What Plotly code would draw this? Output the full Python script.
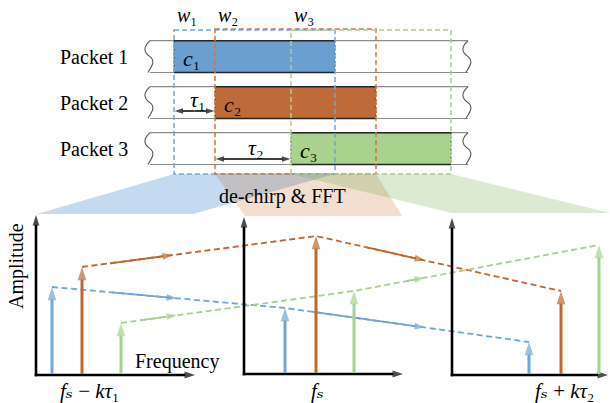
import plotly.graph_objects as go

# ---------------- data ----------------
packet_names = ["Packet 1", "Packet 2", "Packet 3"]
chirp_names = ["<i>c</i>₁", "<i>c</i>₂", "<i>c</i>₃"]
window_names = ["<i>w</i>₁", "<i>w</i>₂", "<i>w</i>₃"]
delay_names = ["<i>τ</i>₁", "<i>τ</i>₂"]
# chirp timing (diagram time units)
chirp_start = [174, 215, 291]
chirp_end = [335, 376, 451]
# spectra after de-chirp & FFT: per window, per packet
peak_freq = [[16, 46, 85], [41, 72, 110], [77, 109, 147]]
peak_amp = [[88, 108, 52], [66, 138, 83], [33, 84, 130]]
freq_labels = ["<i>fₛ</i> − <i>kτ</i>₁", "<i>fₛ</i>", "<i>fₛ</i> + <i>kτ</i>₂"]
center_label = "de-chirp &amp; FFT"

# ---------------- layout constants ----------------
W, H = 610, 403
FONT = "Liberation Serif, Times New Roman, DejaVu Serif, serif"
bar_colors = ["#6A9FD0", "#BE6B39", "#A9D28F"]
line_colors = ["#6FA6D8", "#C0662F", "#A9D18E"]
box_colors = ["#6FA6D8", "#D0773F", "#A9D18E"]
fan_colors = ["rgba(91,155,213,0.37)", "rgba(197,90,17,0.2)", "rgba(112,173,71,0.25)"]
row_top = [40.7, 86.7, 132.7]
row_h = 31.8
row_x0, row_x1 = 150, 468
box_top, box_bot = 30, 174
panel_x0 = [36, 244, 452]
panel_base = [375, 374, 375]
panel_top = [215, 217, 218]
panel_xend = [195, 403, 608]
fan_bottom = [(37, 193, 214), (245, 402, 216), (452, 610, 213)]
mid_arrow_x = [[177, 173, 177], [425, 425, 425]]
solid_start_x = [[112, 110, 140], [313, 367, 406]]
label_dx = [53, 73, 112]

shapes = []
annotations = []
traces = []


def txt(x, y, text, size=20, xanchor="center", angle=0):
    annotations.append(dict(x=x, y=y, text=text, showarrow=False, xanchor=xanchor,
                            yanchor="middle", textangle=angle,
                            font=dict(family=FONT, size=size, color="black")))


def arrow(xa, ya, xb, yb, color, width, size, dash="solid"):
    traces.append(go.Scatter(
        x=[xa, xb], y=[ya, yb], mode="lines+markers",
        line=dict(color=color, width=width, dash=dash),
        marker=dict(symbol="arrow", size=[0, size], angleref="previous", color=color,
                    line=dict(width=0)),
        hoverinfo="skip", showlegend=False))


# fans
for i in range(3):
    bx0, bx1, by = fan_bottom[i]
    path = (f"M {chirp_start[i]},{box_bot} L {chirp_end[i]},{box_bot} "
            f"L {bx1},{by} L {bx0},{by} Z")
    shapes.append(dict(type="path", path=path, fillcolor=fan_colors[i],
                       line=dict(width=0), layer="below"))


def wavy(x, y0, h):
    a = 3.4
    return (f"M {x},{y0} C {x - a*2},{y0 + h*0.2} {x - a*2},{y0 + h*0.35} {x},{y0 + h*0.5} "
            f"C {x + a*1.7},{y0 + h*0.65} {x + a*0.5},{y0 + h*0.8} {x - a*0.6},{y0 + h}")


# packet rows
for i in range(3):
    yt = row_top[i]
    yb = yt + row_h
    shapes.append(dict(type="rect", x0=chirp_start[i], x1=chirp_end[i], y0=yt, y1=yb,
                       fillcolor=bar_colors[i], line=dict(width=0)))
    for yy in (yt, yb):
        shapes.append(dict(type="line", x0=row_x0, x1=row_x1, y0=yy, y1=yy,
                           line=dict(color="#8C8C8C", width=1.2)))
        shapes.append(dict(type="line", x0=chirp_start[i], x1=chirp_end[i], y0=yy, y1=yy,
                           line=dict(color="#262626", width=1.6)))
    for xx in (chirp_start[i], chirp_end[i]):
        shapes.append(dict(type="line", x0=xx, x1=xx, y0=yt, y1=yb,
                           line=dict(color="#333333", width=1, dash="2px,2px")))
    for xx in (row_x0, row_x1):
        shapes.append(dict(type="path", path=wavy(xx, yt, row_h),
                           line=dict(color="#555555", width=1.1)))
    txt(58, yt + row_h / 2 + 0.5, packet_names[i], xanchor="left")
    txt(chirp_start[i] + 7, yt + row_h / 2 + 2, chirp_names[i], size=22, xanchor="left")

# dashed windows
for i in range(3):
    shapes.append(dict(type="rect", x0=chirp_start[i], x1=chirp_end[i],
                       y0=box_top - (1 if i == 1 else 0), y1=box_bot,
                       line=dict(color=box_colors[i], width=1.5, dash="5px,3px")))
    txt(chirp_start[i] + 13, 15, window_names[i], size=20)

# delay arrows (double headed)
delay_y = [111, 159]
delay_from = [chirp_start[0], chirp_start[1]]
delay_to = [chirp_start[1], chirp_start[2]]
for j in range(2):
    xm = (delay_from[j] + delay_to[j]) / 2
    arrow(xm, delay_y[j], delay_to[j] - 0.5, delay_y[j], "black", 1.5, 9)
    arrow(xm, delay_y[j], delay_from[j] + 0.5, delay_y[j], "black", 1.5, 9)
    txt(xm + 3, delay_y[j] - 12, delay_names[j], size=22)

txt(282, 196, center_label)

# connecting dashed lines with mid arrows
for k in range(3):
    pts = [(panel_x0[p] + peak_freq[p][k], panel_base[p] - peak_amp[p][k]) for p in range(3)]
    traces.append(go.Scatter(x=[q[0] for q in pts], y=[q[1] for q in pts], mode="lines",
                             line=dict(color=line_colors[k], width=1.8, dash="6px,3.5px"),
                             hoverinfo="skip", showlegend=False))
    for s in range(2):
        (xa, ya), (xb, yb2) = pts[s], pts[s + 1]
        xm = mid_arrow_x[s][k]
        ym = ya + (yb2 - ya) * (xm - xa) / (xb - xa)
        xs = solid_start_x[s][k]
        ys = ya + (yb2 - ya) * (xs - xa) / (xb - xa)
        arrow(xs, ys, xm, ym, line_colors[k], 1.8, 11)

# spectra panels: axes, stems, labels
for p in range(3):
    x0, yb = panel_x0[p], panel_base[p]
    arrow(x0, yb + 1.3, x0, panel_top[p], "black", 2.6, 11)
    arrow(x0 - 1.3, yb, panel_xend[p], yb, "black", 2.6, 11)
    for k in range(3):
        xs = x0 + peak_freq[p][k]
        arrow(xs, yb - 1, xs, yb - peak_amp[p][k], line_colors[k], 3, 14)
    txt(x0 + label_dx[p], 391, freq_labels[p], size=21)

txt(133, 361, "Frequency", xanchor="left")
txt(16, 266, "Amplitude", angle=-90)

fig = go.Figure(traces)
fig.update_layout(
    width=W, height=H, margin=dict(l=0, r=0, t=0, b=0),
    paper_bgcolor="white", plot_bgcolor="white",
    font=dict(family=FONT, size=20, color="black"),
    xaxis=dict(range=[0, W], visible=False, fixedrange=True),
    yaxis=dict(range=[H, 0], visible=False, fixedrange=True),
    shapes=shapes, annotations=annotations, showlegend=False,
)
fig.write_html("out.html", config={"displayModeBar": False},
               post_script="document.body.style.margin='0';"
               "document.documentElement.style.overflow='hidden';")
